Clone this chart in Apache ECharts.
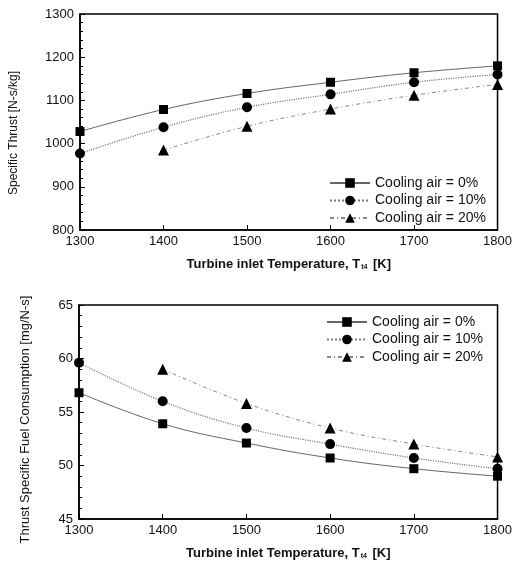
<!DOCTYPE html>
<html>
<head>
<meta charset="utf-8">
<script src="https://cdn.jsdelivr.net/npm/echarts/dist/echarts.min.js"></script>
<style>html,body{margin:0;padding:0;background:#fff;}#c{width:515px;height:561px;}</style>
</head>
<body>
<div id="c"></div>
<script>
const temps = [1300, 1400, 1500, 1600, 1700, 1800];
const seriesNames = ['Cooling air = 0%', 'Cooling air = 10%', 'Cooling air = 20%'];
const thrust0 = [1028, 1079, 1116, 1142, 1164, 1180];
const thrust10 = [977, 1038, 1084, 1114, 1142, 1160];
const thrust20 = [null, 985, 1040, 1080, 1112, 1137];
const tsfc0 = [56.8, 53.9, 52.1, 50.7, 49.7, 49.0];
const tsfc10 = [59.6, 56.0, 53.5, 52.0, 50.7, 49.7];
const tsfc20 = [null, 59.0, 55.8, 53.5, 52.0, 50.8];

const FONT = 'Liberation Sans';
const pairs = vals => temps.map((t, i) => vals[i] == null ? null : [t, vals[i]]).filter(p => p);

const styles = [
  { symbol: 'rect', symbolSize: 9, line: { type: 'solid', color: '#666', width: 1 } },
  { symbol: 'circle', symbolSize: 10, line: { type: 'dotted', color: '#777', width: 1.2 } },
  { symbol: 'triangle', symbolSize: 11, line: { type: [4, 3, 1, 3], color: '#888', width: 1 } }
];

function mkSeries(vals, k, gi) {
  return {
    type: 'line', name: seriesNames[k], xAxisIndex: gi, yAxisIndex: gi,
    data: pairs(vals), smooth: 0.4,
    symbol: styles[k].symbol, symbolSize: styles[k].symbolSize,
    itemStyle: { color: '#000' }, lineStyle: styles[k].line,
    z: 3 - k
  };
}

const xName = 'Turbine inlet Temperature, T{sub|t4} [K]';
const xNameStyle = { fontFamily: FONT, fontSize: 13, fontWeight: 'bold', color: '#111',
  rich: { sub: { fontFamily: FONT, fontSize: 7, fontWeight: 'bold', color: '#111', padding: [7, 2, 0, 1] } } };

const plain = v => String(v);

function xAxis(gi) {
  return {
    type: 'value', gridIndex: gi, min: 1300, max: 1800, interval: 100,
    name: xName, nameLocation: 'middle', nameGap: 27, nameTextStyle: xNameStyle,
    axisLine: { lineStyle: { color: '#000', width: 1.5 } },
    axisTick: { inside: true, length: 5, lineStyle: { color: '#000' } },
    axisLabel: { fontFamily: FONT, fontSize: 13, color: '#111', margin: 5, formatter: plain },
    splitLine: { show: false }
  };
}
function yAxis(gi, min, max, interval, name, gap, fs, pad) {
  return {
    type: 'value', gridIndex: gi, min: min, max: max, interval: interval,
    name: name, nameLocation: 'middle', nameGap: gap,
    nameTextStyle: { fontFamily: FONT, fontSize: fs, color: '#111', padding: pad },
    axisLine: { lineStyle: { color: '#000', width: 1.5 } },
    axisTick: { inside: true, length: 5, lineStyle: { color: '#000' } },
    minorTick: { show: true, splitNumber: 5, length: 3, lineStyle: { color: '#000' } },
    axisLabel: { fontFamily: FONT, fontSize: 13, color: '#111', margin: 6, formatter: plain },
    splitLine: { show: false }
  };
}

const legendBase = {
  orient: 'vertical', itemWidth: 40, itemHeight: 12, itemGap: 3.5,
  textStyle: { fontFamily: FONT, fontSize: 14, color: '#111' },
  data: seriesNames, selectedMode: false
};

const option = {
  animation: false,
  backgroundColor: '#fff',
  grid: [
    { left: 79, top: 14, width: 420, height: 216, show: true, borderColor: '#000', borderWidth: 1.5, containLabel: false },
    { left: 79, top: 305, width: 419, height: 214, show: true, borderColor: '#000', borderWidth: 1.5, containLabel: false }
  ],
  xAxis: [xAxis(0), xAxis(1)],
  yAxis: [
    yAxis(0, 800, 1300, 100, 'Specific Thrust [N-s/kg]', 60, 12, [0, 22, 0, 0]),
    yAxis(1, 45, 65, 5, 'Thrust Specific Fuel Consumption [mg/N-s]', 47, 13, [0, 15, 0, 0])
  ],
  legend: [
    Object.assign({}, legendBase, { left: 324, top: 171 }),
    Object.assign({}, legendBase, { left: 321, top: 310 })
  ],
  series: [
    mkSeries(thrust0, 0, 0), mkSeries(thrust10, 1, 0), mkSeries(thrust20, 2, 0),
    mkSeries(tsfc0, 0, 1), mkSeries(tsfc10, 1, 1), mkSeries(tsfc20, 2, 1)
  ]
};

const chart = echarts.init(document.getElementById('c'), null, { renderer: 'canvas' });
chart.setOption(option);
</script>
</body>
</html>
